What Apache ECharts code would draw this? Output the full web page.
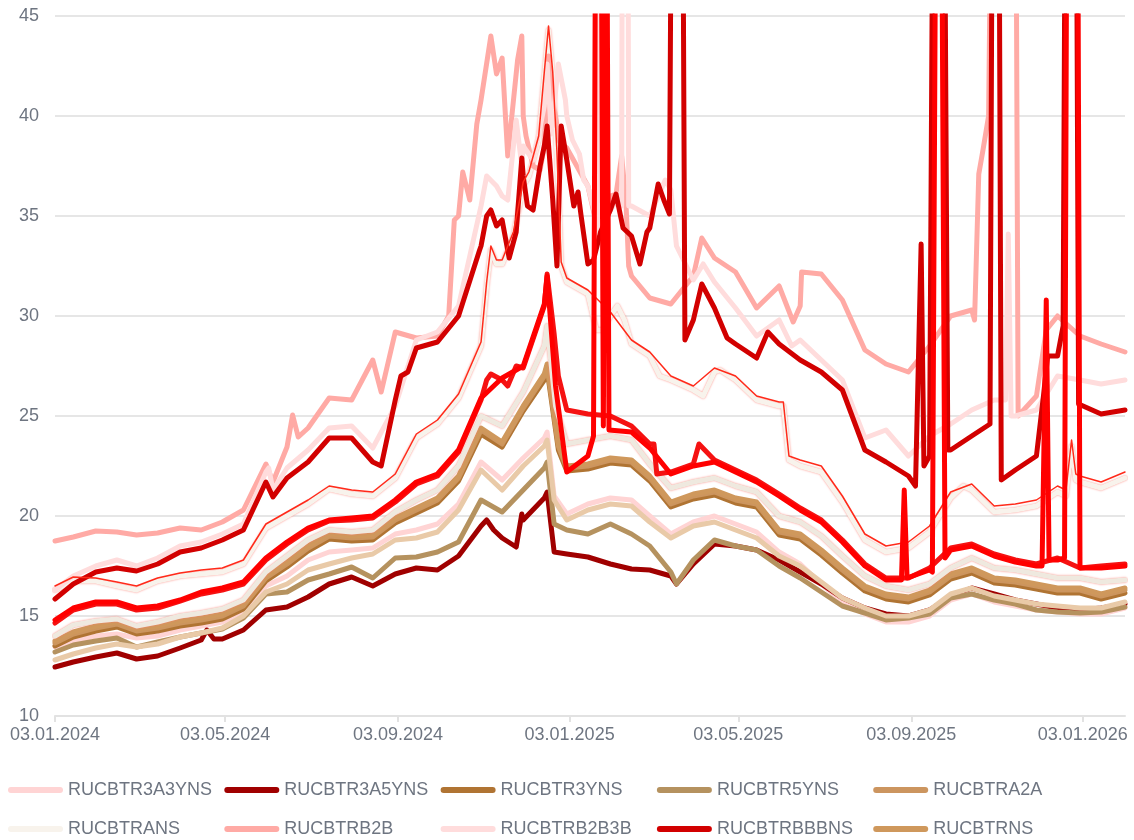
<!DOCTYPE html>
<html>
<head>
<meta charset="utf-8">
<script src="https://cdn.jsdelivr.net/npm/echarts@6/dist/echarts.min.js"></script>
<style>
html,body{margin:0;padding:0;background:#fff;}
#chart{width:1134px;height:840px;}
</style>
</head>
<body>
<div id="chart"></div>
<script>
// ---- sample dates (semi-monthly grid) ----
const dates = ['2024-01-03','2024-01-16','2024-02-01','2024-02-16','2024-03-01','2024-03-16','2024-04-01','2024-04-16','2024-05-01','2024-05-16','2024-06-01','2024-06-16','2024-07-01','2024-07-16','2024-08-01','2024-08-16','2024-09-01','2024-09-16','2024-10-01','2024-10-16','2024-11-01','2024-11-16','2024-12-01','2024-12-16',
'2025-01-01','2025-01-16','2025-02-01','2025-02-16','2025-03-01','2025-03-16','2025-04-01','2025-04-16','2025-05-01','2025-05-16','2025-06-01','2025-06-16','2025-07-01','2025-07-16','2025-08-01','2025-08-16','2025-09-01','2025-09-16','2025-10-01','2025-10-16','2025-11-01','2025-11-16','2025-12-01','2025-12-16',
'2026-01-01','2026-01-16','2026-02-02'];

const tickLabels = ['03.01.2024','03.05.2024','03.09.2024','03.01.2025','03.05.2025','03.09.2025','03.01.2026'];

// ---- series values ----
const r3a3yns = [13.45,13.75,14.0,14.1,13.9,14.0,14.3,14.5,14.7,15.2,16.5,17.0,17.8,18.2,18.3,18.4,19.1,19.3,19.6,20.6,22.7,21.8,22.9,23.9,
20.1,20.6,20.9,20.8,20.0,19.1,19.7,20.0,19.6,19.2,18.2,17.6,16.6,15.7,15.1,14.7,14.7,15.0,15.8,16.1,15.7,15.5,15.3,15.2,
15.1,15.1,15.4];
const r3a3ynsExtra = [['2024-12-18',24.2],['2024-12-23',21.0]];

const r3a5yns = [12.45,12.7,12.95,13.15,12.85,13.0,13.4,13.8,13.85,14.3,15.3,15.45,15.95,16.6,16.95,16.5,17.1,17.4,17.3,18.0,19.5,18.9,19.8,20.9,
18.1,17.95,17.6,17.35,17.3,17.0,17.6,18.6,18.5,18.3,17.8,17.2,16.6,15.9,15.4,15.1,15.0,15.3,16.0,16.4,16.1,15.8,15.6,15.4,
15.3,15.4,15.6];
const r3a5ynsExtra = [['2024-04-20',14.3],['2024-04-25',13.85],['2024-11-05',19.8],['2024-11-10',19.3],['2024-11-26',18.45],['2024-11-30',20.1],['2024-12-18',21.2],['2024-12-23',18.2],['2025-03-20',16.6]];

const r3yns = [13.5,13.95,14.25,14.45,14.1,14.25,14.5,14.65,14.85,15.35,16.75,17.45,18.25,18.85,18.75,18.8,19.65,20.15,20.65,21.75,24.1,23.45,25.25,26.8,
22.25,22.35,22.65,22.55,21.75,20.45,20.85,21.05,20.65,20.45,19.05,18.85,18.05,17.15,16.25,15.85,15.7,16.05,16.85,17.15,16.65,16.55,16.35,16.15,
16.15,15.85,16.15];
const r3ynsExtra = [['2024-12-18',27.3],['2024-12-21',25.8],['2024-12-26',23.3]];

const r5yns = [13.2,13.55,13.75,13.9,13.45,13.7,13.95,14.15,14.35,14.9,16.1,16.2,16.8,17.1,17.45,16.9,17.9,17.95,18.2,18.7,20.8,20.2,21.3,22.4,
19.3,19.1,19.6,19.1,18.5,17.2,17.8,18.8,18.5,18.3,17.5,16.9,16.2,15.5,15.15,14.8,14.9,15.1,15.9,16.1,15.8,15.6,15.3,15.2,
15.15,15.2,15.45];
const r5ynsExtra = [['2024-12-18',22.7],['2024-12-23',19.6],['2025-03-20',16.6]];

const a2a = [13.65,14.1,14.4,14.6,14.25,14.4,14.65,14.8,15.0,15.5,16.9,17.6,18.4,19.0,18.9,18.95,19.8,20.3,20.8,21.9,24.3,23.6,25.4,27.0,
22.4,22.5,22.8,22.7,21.9,20.6,21.0,21.2,20.8,20.6,19.2,19.0,18.2,17.3,16.4,16.0,15.85,16.2,17.0,17.3,16.8,16.7,16.5,16.3,
16.3,16.0,16.3];
const a2aExtra = [['2024-12-18',27.5],['2024-12-21',26.0],['2024-12-26',23.5]];

const ans = [16.3,16.75,16.75,16.5,16.3,16.75,17.0,17.1,17.2,17.6,19.4,20.0,20.6,21.35,21.1,21.0,21.9,23.9,24.6,25.9,28.5,32.6,36.5,42.0,
31.7,31.1,30.0,28.6,28.0,26.8,26.3,27.2,26.8,25.8,25.5,22.5,22.2,20.7,18.8,18.2,18.4,19.2,20.9,21.3,20.2,20.3,20.5,21.2,
21.7,21.4,21.9];
const ansExtra = [['2024-11-05',31.5],['2024-11-08',33.3],['2024-11-12',32.6],['2024-11-24',34.0],['2024-12-05',37.0],['2024-12-12',38.8],['2024-12-19',44.3],['2024-12-22',42.0],['2024-12-25',38.0],['2024-12-28',32.5],['2025-01-22',29.3],['2025-01-27',29.3],['2025-02-06',30.5],['2025-02-11',29.8],['2025-03-08',27.0],['2025-04-08',26.0],['2025-04-20',27.3],['2025-06-04',25.5],['2025-06-08',22.8],['2025-10-10',21.5],['2025-12-22',21.0],['2025-12-26',23.5],['2025-12-29',21.8]];

const b2b = [18.75,18.95,19.25,19.2,19.05,19.15,19.4,19.3,19.7,20.3,22.6,23.45,24.4,25.9,25.8,27.8,29.2,28.9,29.0,35.0,40.8,42.9,40.0,38.5,
38.4,36.5,36.0,32.0,30.9,30.6,32.0,32.9,32.2,30.4,31.5,30.5,32.1,30.8,28.3,27.6,27.2,28.5,30.0,30.3,60,60,26.0,30.0,
29.0,28.6,28.2];
const b2bExtra = [['2024-06-06',21.7],['2024-06-20',25.05],['2024-06-24',23.95],['2024-08-22',26.2],['2024-10-09',30.0],['2024-10-13',34.8],['2024-10-19',37.2],['2024-10-24',35.8],['2024-10-29',39.6],['2024-11-08',44.0],['2024-11-12',42.1],['2024-11-20',38.0],['2024-11-27',42.8],['2024-11-30',44.0],['2024-12-03',39.0],['2024-12-08',37.5],['2024-12-13',37.3],['2024-12-19',43.0],['2024-12-22',40.8],['2024-12-27',38.7],['2025-01-23',34.3],['2025-02-05',36.1],['2025-02-09',38.0],['2025-02-12',35.8],['2025-02-14',32.5],['2025-04-07',33.9],['2025-06-11',29.7],['2025-06-17',32.2],['2025-10-18',29.8],['2025-10-21',37.1],['2025-10-24',38.3],['2025-10-28',40.0],['2025-10-31',60],['2025-11-17',60],['2025-11-18',25.0],['2025-12-08',29.3]];

const b2b3b = [16.3,17.0,17.5,17.8,17.5,17.9,18.5,18.7,19.1,19.6,22.2,22.4,23.3,24.4,24.5,23.4,25.5,28.8,29.2,30.5,35.5,36.0,38.5,40.5,
40.0,36.5,35.3,35.5,35.0,36.3,31.8,31.7,30.4,29.0,29.8,28.8,27.8,26.8,23.9,24.3,23.0,24.0,24.6,25.3,25.8,25.0,25.3,27.0,
26.8,26.6,26.8];
const b2b3bExtra = [['2024-06-03',22.4],['2024-06-06',21.3],['2024-11-05',37.0],['2024-11-12',36.5],['2024-11-20',35.8],['2024-11-26',39.8],['2024-11-30',37.5],['2024-12-08',37.8],['2024-12-14',39.8],['2024-12-18',42.6],['2024-12-21',39.1],['2024-12-26',42.6],['2024-12-31',40.8],['2025-01-05',38.8],['2025-01-10',38.1],['2025-01-13',36.8],['2025-01-21',35.1],['2025-01-22',70],['2025-01-24',34.2],['2025-02-06',35.8],['2025-02-09',35.5],['2025-02-10',70],['2025-02-13',70],['2025-02-14',35.5],['2025-03-12',36.8],['2025-03-20',33.5],['2025-04-08',32.6],['2025-06-10',28.5],['2025-11-09',25.8],['2025-11-11',34.1],['2025-11-13',25.0]];

const bbbns = [15.85,16.6,17.2,17.4,17.25,17.6,18.2,18.4,18.8,19.3,21.7,21.9,22.7,23.9,23.9,22.7,25.8,28.4,28.7,30.0,33.5,34.8,37.0,38.5,
37.8,32.6,35.3,34.0,34.4,35.2,29.8,30.4,28.6,27.9,28.6,27.8,27.2,26.3,23.3,22.7,22.0,23.0,23.3,24.0,60,22.3,23.0,28.0,
25.6,25.1,25.3];
const bbbnsExtra = [['2024-06-06',20.95],['2024-08-22',22.5],['2024-09-05',27.0],['2024-09-10',27.2],['2024-10-31',33.3],['2024-11-05',35.0],['2024-11-08',35.3],['2024-11-12',34.5],['2024-11-21',32.9],['2024-11-26',34.2],['2024-11-30',37.9],['2024-12-04',35.5],['2024-12-08',35.3],['2024-12-13',37.5],['2024-12-18',39.5],['2024-12-22',35.8],['2024-12-25',32.5],['2024-12-28',39.5],['2025-01-06',35.5],['2025-01-09',36.2],['2025-01-11',35.1],['2025-01-20',32.8],['2025-01-25',34.2],['2025-02-05',36.1],['2025-02-10',34.4],['2025-02-22',32.6],['2025-02-27',34.2],['2025-03-07',36.6],['2025-03-11',35.8],['2025-03-15',35.1],['2025-03-17',60],['2025-03-24',60],['2025-03-26',28.8],['2025-04-07',31.6],['2025-04-13',30.8],['2025-04-25',28.9],['2025-05-24',29.2],['2025-09-06',21.5],['2025-09-10',33.6],['2025-09-12',22.5],['2025-09-19',60],['2025-09-26',60],['2025-09-29',23.3],['2025-10-29',24.6],['2025-10-31',60],['2025-11-04',60],['2025-11-06',21.8],['2025-12-06',26.0],['2025-12-09',28.0],['2025-12-20',29.5],['2025-12-22',60],['2025-12-29',60],['2025-12-31',25.6]];

const ns = [13.75,14.2,14.5,14.7,14.35,14.5,14.75,14.9,15.1,15.6,17.0,17.7,18.5,19.1,19.0,19.05,19.9,20.4,20.9,22.0,24.4,23.7,25.5,27.1,
22.5,22.6,22.9,22.8,22.0,20.7,21.1,21.3,20.9,20.7,19.3,19.1,18.3,17.4,16.5,16.1,15.95,16.3,17.1,17.4,16.9,16.8,16.6,16.4,
16.4,16.1,16.4];
const nsExtra = [['2024-12-18',27.6],['2024-12-21',26.1],['2024-12-26',23.6]];

// further series of the chart (their legend entries fall below the visible area)
const peach = [12.8,13.1,13.4,13.6,13.45,13.6,13.95,14.15,14.4,15.0,16.2,16.6,17.3,17.6,17.9,18.1,18.8,18.9,19.2,20.3,22.3,21.3,22.5,23.5,
19.8,20.3,20.6,20.5,19.7,18.9,19.5,19.7,19.3,18.9,18.0,17.5,16.7,15.9,15.4,15.0,15.0,15.3,16.1,16.4,16.0,15.8,15.6,15.5,
15.4,15.4,15.7];
const peachExtra = [['2024-12-18',23.8],['2024-12-23',20.8]];

const cream2 = [14.0,14.55,14.75,14.85,14.5,14.7,15.0,15.15,15.35,15.8,17.2,18.0,18.8,19.3,19.2,19.3,20.2,20.8,21.3,22.5,25.0,24.5,26.2,28.5,
23.6,23.8,24.0,23.8,22.6,21.4,21.7,21.9,21.5,21.2,20.0,19.7,19.0,18.0,17.0,16.5,16.3,16.6,17.4,17.9,17.4,17.3,17.1,16.9,
16.9,16.7,16.8];
const cream2Extra = [['2024-12-18',29.5],['2024-12-24',25.5]];

const thinRed = [16.5,16.95,16.9,16.7,16.5,16.9,17.15,17.3,17.4,17.8,19.6,20.2,20.8,21.5,21.3,21.2,22.1,24.1,24.8,26.1,28.7,32.8,36.7,42.2,
31.9,31.3,30.2,28.8,28.2,27.0,26.5,27.4,27.0,26.0,25.7,22.8,22.5,21.0,19.1,18.5,18.7,19.5,21.2,21.6,20.5,20.6,20.8,21.5,
22.0,21.7,22.2];
const thinRedExtra = [['2024-11-05',31.7],['2024-11-08',33.5],['2024-11-12',32.8],['2024-11-24',34.2],['2024-12-05',37.2],['2024-12-12',39.0],['2024-12-19',44.5],['2024-12-22',42.2],['2024-12-25',38.2],['2024-12-28',32.7],['2025-06-04',25.7],['2025-06-08',23.0],['2025-12-22',21.3],['2025-12-26',23.8],['2025-12-29',22.1]];

const redA = [14.65,15.3,15.6,15.6,15.3,15.4,15.75,16.1,16.3,16.6,17.8,18.6,19.3,19.75,19.8,19.9,20.7,21.6,22.0,23.2,25.8,26.8,27.4,30.5,
25.3,25.1,25.0,24.5,23.6,22.2,22.6,22.8,22.3,21.8,21.1,20.4,19.8,18.8,17.6,16.9,16.9,17.4,18.4,18.6,18.1,17.8,17.6,17.9,
17.4,17.5,17.6];
const redAExtra = [['2024-11-05',26.8],['2024-11-08',27.1],['2024-11-20',26.5],['2024-11-26',27.5],['2024-12-18',32.1],['2024-12-23',29.1],['2024-12-26',27.0],['2025-03-04',23.6],['2025-03-06',22.1],['2025-04-05',23.6]];

const redB = [14.8,15.4,15.7,15.7,15.4,15.5,15.8,16.2,16.4,16.7,17.9,18.7,19.4,19.8,19.9,20.0,20.8,21.7,22.1,23.3,25.9,26.9,27.5,30.6,
22.2,23.0,24.3,24.2,23.4,22.1,22.5,22.7,22.2,21.7,21.0,20.3,19.7,18.7,17.5,16.8,16.8,17.3,18.3,18.5,18.0,17.7,17.5,17.8,
17.4,17.4,17.5];
const redBExtra = [['2024-12-18',32.0],['2024-12-24',26.5],['2025-01-20',24.0],['2025-01-22',60],['2025-01-25',60],['2025-01-27',24.5],['2025-01-29',60],['2025-01-31',24.3],['2025-08-27',16.8],['2025-08-29',21.3],['2025-08-31',16.9],['2025-09-18',17.2],['2025-09-21',60],['2025-09-24',60],['2025-09-27',17.9],['2025-12-05',17.5],['2025-12-08',30.8],['2025-12-10',17.8],['2025-12-21',17.9],['2025-12-23',60],['2025-12-30',60]];

// ---- helpers ----
function buildDays() {
  const out = [];
  let t = Date.UTC(2024, 0, 3);
  const end = Date.UTC(2026, 1, 2);
  while (t <= end) { out.push(new Date(t).toISOString().slice(0, 10)); t += 86400000; }
  return out;
}
const days = buildDays();
function toLabel(s) { return s.slice(8, 10) + '.' + s.slice(5, 7) + '.' + s.slice(0, 4); }
const tickSet = new Set(tickLabels);
const showTick = (i, v) => tickSet.has(toLabel(v));
function merge(vals, extra) {
  const m = new Map();
  dates.forEach((d, i) => m.set(d, vals[i]));
  (extra || []).forEach(([d, v]) => m.set(d, v));
  return Array.from(m.entries()).sort((a, b) => (a[0] < b[0] ? -1 : a[0] > b[0] ? 1 : 0));
}

const seriesDefs = [
  ['RUCBTR3A3YNS', '#ffd4d4', r3a3yns, r3a3ynsExtra, 5],
  ['RUCBTR3A5YNS', '#a00000', r3a5yns, r3a5ynsExtra, 5],
  ['RUCBTR3YNS', '#b07433', r3yns, r3ynsExtra, 5],
  ['RUCBTR5YNS', '#b5925f', r5yns, r5ynsExtra, 5],
  ['RUCBTRA2A', '#cc955f', a2a, a2aExtra, 5],
  ['RUCBTRANS', '#f8f3ec', ans, ansExtra, 5],
  ['RUCBTRB2B', '#ffaaa5', b2b, b2bExtra, 5],
  ['RUCBTRB2B3B', '#ffdcdc', b2b3b, b2b3bExtra, 5],
  ['RUCBTRBBBNS', '#d20000', bbbns, bbbnsExtra, 5],
  ['RUCBTRNS', '#cf985c', ns, nsExtra, 5],
  ['RUCBTRBBB3YNS', '#e9caa8', peach, peachExtra, 5],
  ['RUCBTRBBB5YNS', '#efe9df', cream2, cream2Extra, 5],
  ['RUCBTRBB', '#ff2a1a', thinRed, thinRedExtra, 1.5],
  ['RUCBTRBBB', '#f51212', redA, redAExtra, 5],
  ['RUCBTRBB3B', '#ff0000', redB, redBExtra, 5]
];
const legendNames = seriesDefs.slice(0, 10).map(s => s[0]);
const outlined = new Set(['RUCBTRANS', 'RUCBTRBBB5YNS']);

const FONT = "'Liberation Sans', Arial, Helvetica, sans-serif";
const chart = echarts.init(document.getElementById('chart'), null, { renderer: 'canvas' });
chart.setOption({
  animation: false,
  backgroundColor: '#ffffff',
  textStyle: { fontFamily: FONT },
  grid: { left: 55, right: 9, top: 16, bottom: 124, containLabel: false },
  legend: {
    data: legendNames,
    left: 8,
    top: 774.5,
    padding: 0,
    itemWidth: 55,
    itemHeight: 6,
    itemGap: 8,
    symbolKeepAspect: false,
    icon: 'path://M3 0L52 0A3 3 0 0 1 52 6L3 6A3 3 0 0 1 3 0Z',
    textStyle: { fontSize: 18, color: '#6e7581', width: 148.3, lineHeight: 31, fontFamily: FONT },
    selectedMode: false
  },
  xAxis: {
    type: 'category',
    data: days,
    boundaryGap: false,
    axisLine: { lineStyle: { color: '#e2e2e2', width: 2 } },
    axisTick: { interval: showTick, length: 6, lineStyle: { color: '#e2e2e2', width: 2 } },
    axisLabel: { interval: showTick, formatter: v => toLabel(v), fontSize: 18, color: '#6e7581', margin: 10, fontFamily: FONT },
    splitLine: { show: false }
  },
  yAxis: {
    type: 'value',
    min: 10, max: 45, interval: 5,
    axisLine: { show: false },
    axisTick: { show: false },
    axisLabel: { fontSize: 18, color: '#6e7581', margin: 16, fontFamily: FONT },
    splitLine: { lineStyle: { color: '#e6e6e6', width: 2 } }
  },
  series: seriesDefs.map(([name, color, vals, extra, w]) => ({
    name,
    type: 'line',
    data: merge(vals, extra),
    symbol: 'none',
    showSymbol: false,
    clip: true,
    lineStyle: Object.assign({ color, width: w, cap: 'round', join: 'round' },
      outlined.has(name) ? { shadowColor: 'rgba(255,120,110,0.85)', shadowBlur: 2 } : {}),
    itemStyle: { color },
    emphasis: { disabled: true }
  }))
});
</script>
</body>
</html>
